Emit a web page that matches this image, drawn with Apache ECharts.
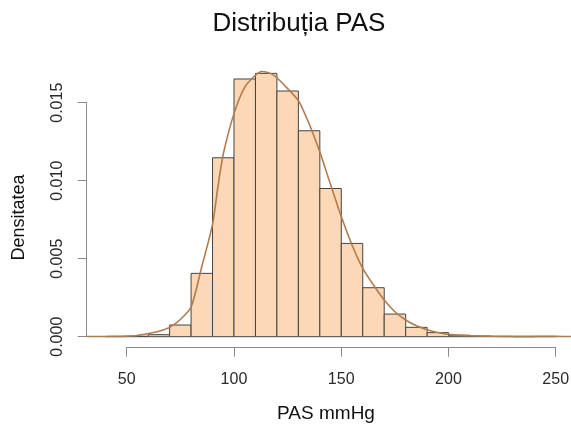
<!DOCTYPE html>
<html>
<head>
<meta charset="utf-8">
<script src="https://cdn.jsdelivr.net/npm/echarts@6/dist/echarts.min.js"></script>
<style>
html,body{margin:0;padding:0;background:#fff;}
#chart{width:571px;height:427px;}
</style>
</head>
<body>
<div id="chart"></div>
<script>
// ---- data ----
const binStarts = [40, 50, 60, 70, 80, 90, 100, 110, 120, 130, 140, 150, 160, 170, 180, 190, 200, 210, 220, 230, 240];
const binEnds   = [50, 60, 70, 80, 90, 100, 110, 120, 130, 140, 150, 160, 170, 180, 190, 200, 210, 220, 230, 240, 250];
const binDensity = [0.00002, 0.00003, 0.00013, 0.00075, 0.00406, 0.01147, 0.01652, 0.01688, 0.01575, 0.0132,
                    0.0095, 0.00598, 0.00314, 0.00145, 0.0006, 0.00026, 0.00009, 0.00004, 0.00002, 0, 0.00002];

const curveX = [31.4, 40, 45, 50, 55, 60, 65, 70, 75, 80, 85, 90, 92.5, 95, 100, 105, 110, 113, 117, 120, 125, 130,
                135, 140, 145, 150, 155, 160, 165, 170, 175, 180, 185, 190, 195, 200, 210, 220, 230, 240, 250, 257];
const curveY = [0.00001, 0.00001, 0.00002, 0.00004, 0.00008, 0.0002, 0.00035, 0.0006, 0.0011, 0.0019, 0.0045,
                0.0072, 0.0096, 0.0117, 0.0143, 0.0160, 0.01676, 0.0170, 0.01688, 0.0166, 0.0159, 0.01513,
                0.01365, 0.01184, 0.00975, 0.0077, 0.00588, 0.00438, 0.00331, 0.00235, 0.0016, 0.00107,
                0.0007, 0.00045, 0.00027, 0.00015, 0.00006, 0.00003, 0.00002, 0.00002, 0.00002, 0.00001];

const xTicks = [50, 100, 150, 200, 250];
const yTicks = [0, 0.005, 0.010, 0.015];

const titleText = 'Distribuția PAS';
const xTitle = 'PAS mmHg';
const yTitle = 'Densitatea';

// ---- chart ----
const FONT = '"Liberation Sans", Arial, Helvetica, sans-serif';
const chart = echarts.init(document.getElementById('chart'), null, {renderer: 'canvas'});

const barData = binStarts.map((s, i) => [s, binEnds[i], binDensity[i]]);
const lineData = curveX.map((x, i) => [x, curveY[i]]);

const option = {
  animation: false,
  backgroundColor: '#ffffff',
  grid: [
    {left: 86.7, right: 0, top: 55.9, bottom: 90.3, outerBoundsMode: 'none', containLabel: false},
    {left: 126.7, right: 15.3, top: 300, bottom: 79.3, outerBoundsMode: 'none', containLabel: false},
    {left: 86.7, right: 400, top: 102.7, bottom: 90.3, outerBoundsMode: 'none', containLabel: false}
  ],
  xAxis: [
    {type: 'value', gridIndex: 0, min: 31.36, max: 257.04, show: false},
    {type: 'value', gridIndex: 1, min: xTicks[0], max: xTicks[xTicks.length - 1], interval: 50,
     axisLine: {show: true, lineStyle: {color: '#8a8a8a', width: 1}},
     axisTick: {show: true, length: 9, lineStyle: {color: '#8a8a8a', width: 1}},
     axisLabel: {show: true, margin: 24, color: '#2a2a2a', fontSize: 16, fontFamily: FONT,
                 showMinLabel: true, showMaxLabel: true},
     splitLine: {show: false}},
    {type: 'value', gridIndex: 2, show: false}
  ],
  yAxis: [
    {type: 'value', gridIndex: 0, min: 0, max: 0.018, show: false},
    {type: 'value', gridIndex: 1, show: false},
    {type: 'value', gridIndex: 2, min: yTicks[0], max: yTicks[yTicks.length - 1], interval: 0.005,
     axisLine: {show: true, lineStyle: {color: '#8a8a8a', width: 1}},
     axisTick: {show: true, length: 9, lineStyle: {color: '#8a8a8a', width: 1}},
     axisLabel: {show: true, rotate: 90, margin: 21, color: '#2a2a2a', fontSize: 16, fontFamily: FONT,
                 formatter: v => v.toFixed(3), showMinLabel: true, showMaxLabel: true},
     splitLine: {show: false}}
  ],
  graphic: [
    {type: 'text', x: 299, y: 24, style: {text: titleText, font: '26px ' + FONT, fill: '#111111', align: 'center', verticalAlign: 'middle'}},
    {type: 'text', x: 326, y: 414, style: {text: xTitle, font: '19px ' + FONT, fill: '#111111', align: 'center', verticalAlign: 'middle'}},
    {type: 'text', x: 19, y: 217.5, rotation: Math.PI / 2, style: {text: yTitle, font: '18px ' + FONT, fill: '#111111', align: 'center', verticalAlign: 'middle'}}
  ],
  series: [
    {
      type: 'custom',
      xAxisIndex: 0, yAxisIndex: 0,
      encode: {x: [0, 1], y: 2},
      data: barData,
      clip: false,
      z: 2,
      renderItem: function (params, api) {
        const p1 = api.coord([api.value(0), api.value(2)]);
        const p2 = api.coord([api.value(1), 0]);
        return {
          type: 'rect',
          shape: {x: p1[0], y: p1[1], width: p2[0] - p1[0], height: p2[1] - p1[1]},
          style: {fill: '#fcd8b6', stroke: '#444444', lineWidth: 1}
        };
      }
    },
    {
      type: 'line',
      xAxisIndex: 0, yAxisIndex: 0,
      data: lineData,
      smooth: 0.25,
      showSymbol: false,
      symbol: 'none',
      clip: false,
      z: 3,
      lineStyle: {color: '#b27b4c', width: 1.6}
    }
  ]
};
chart.setOption(option);
</script>
</body>
</html>
